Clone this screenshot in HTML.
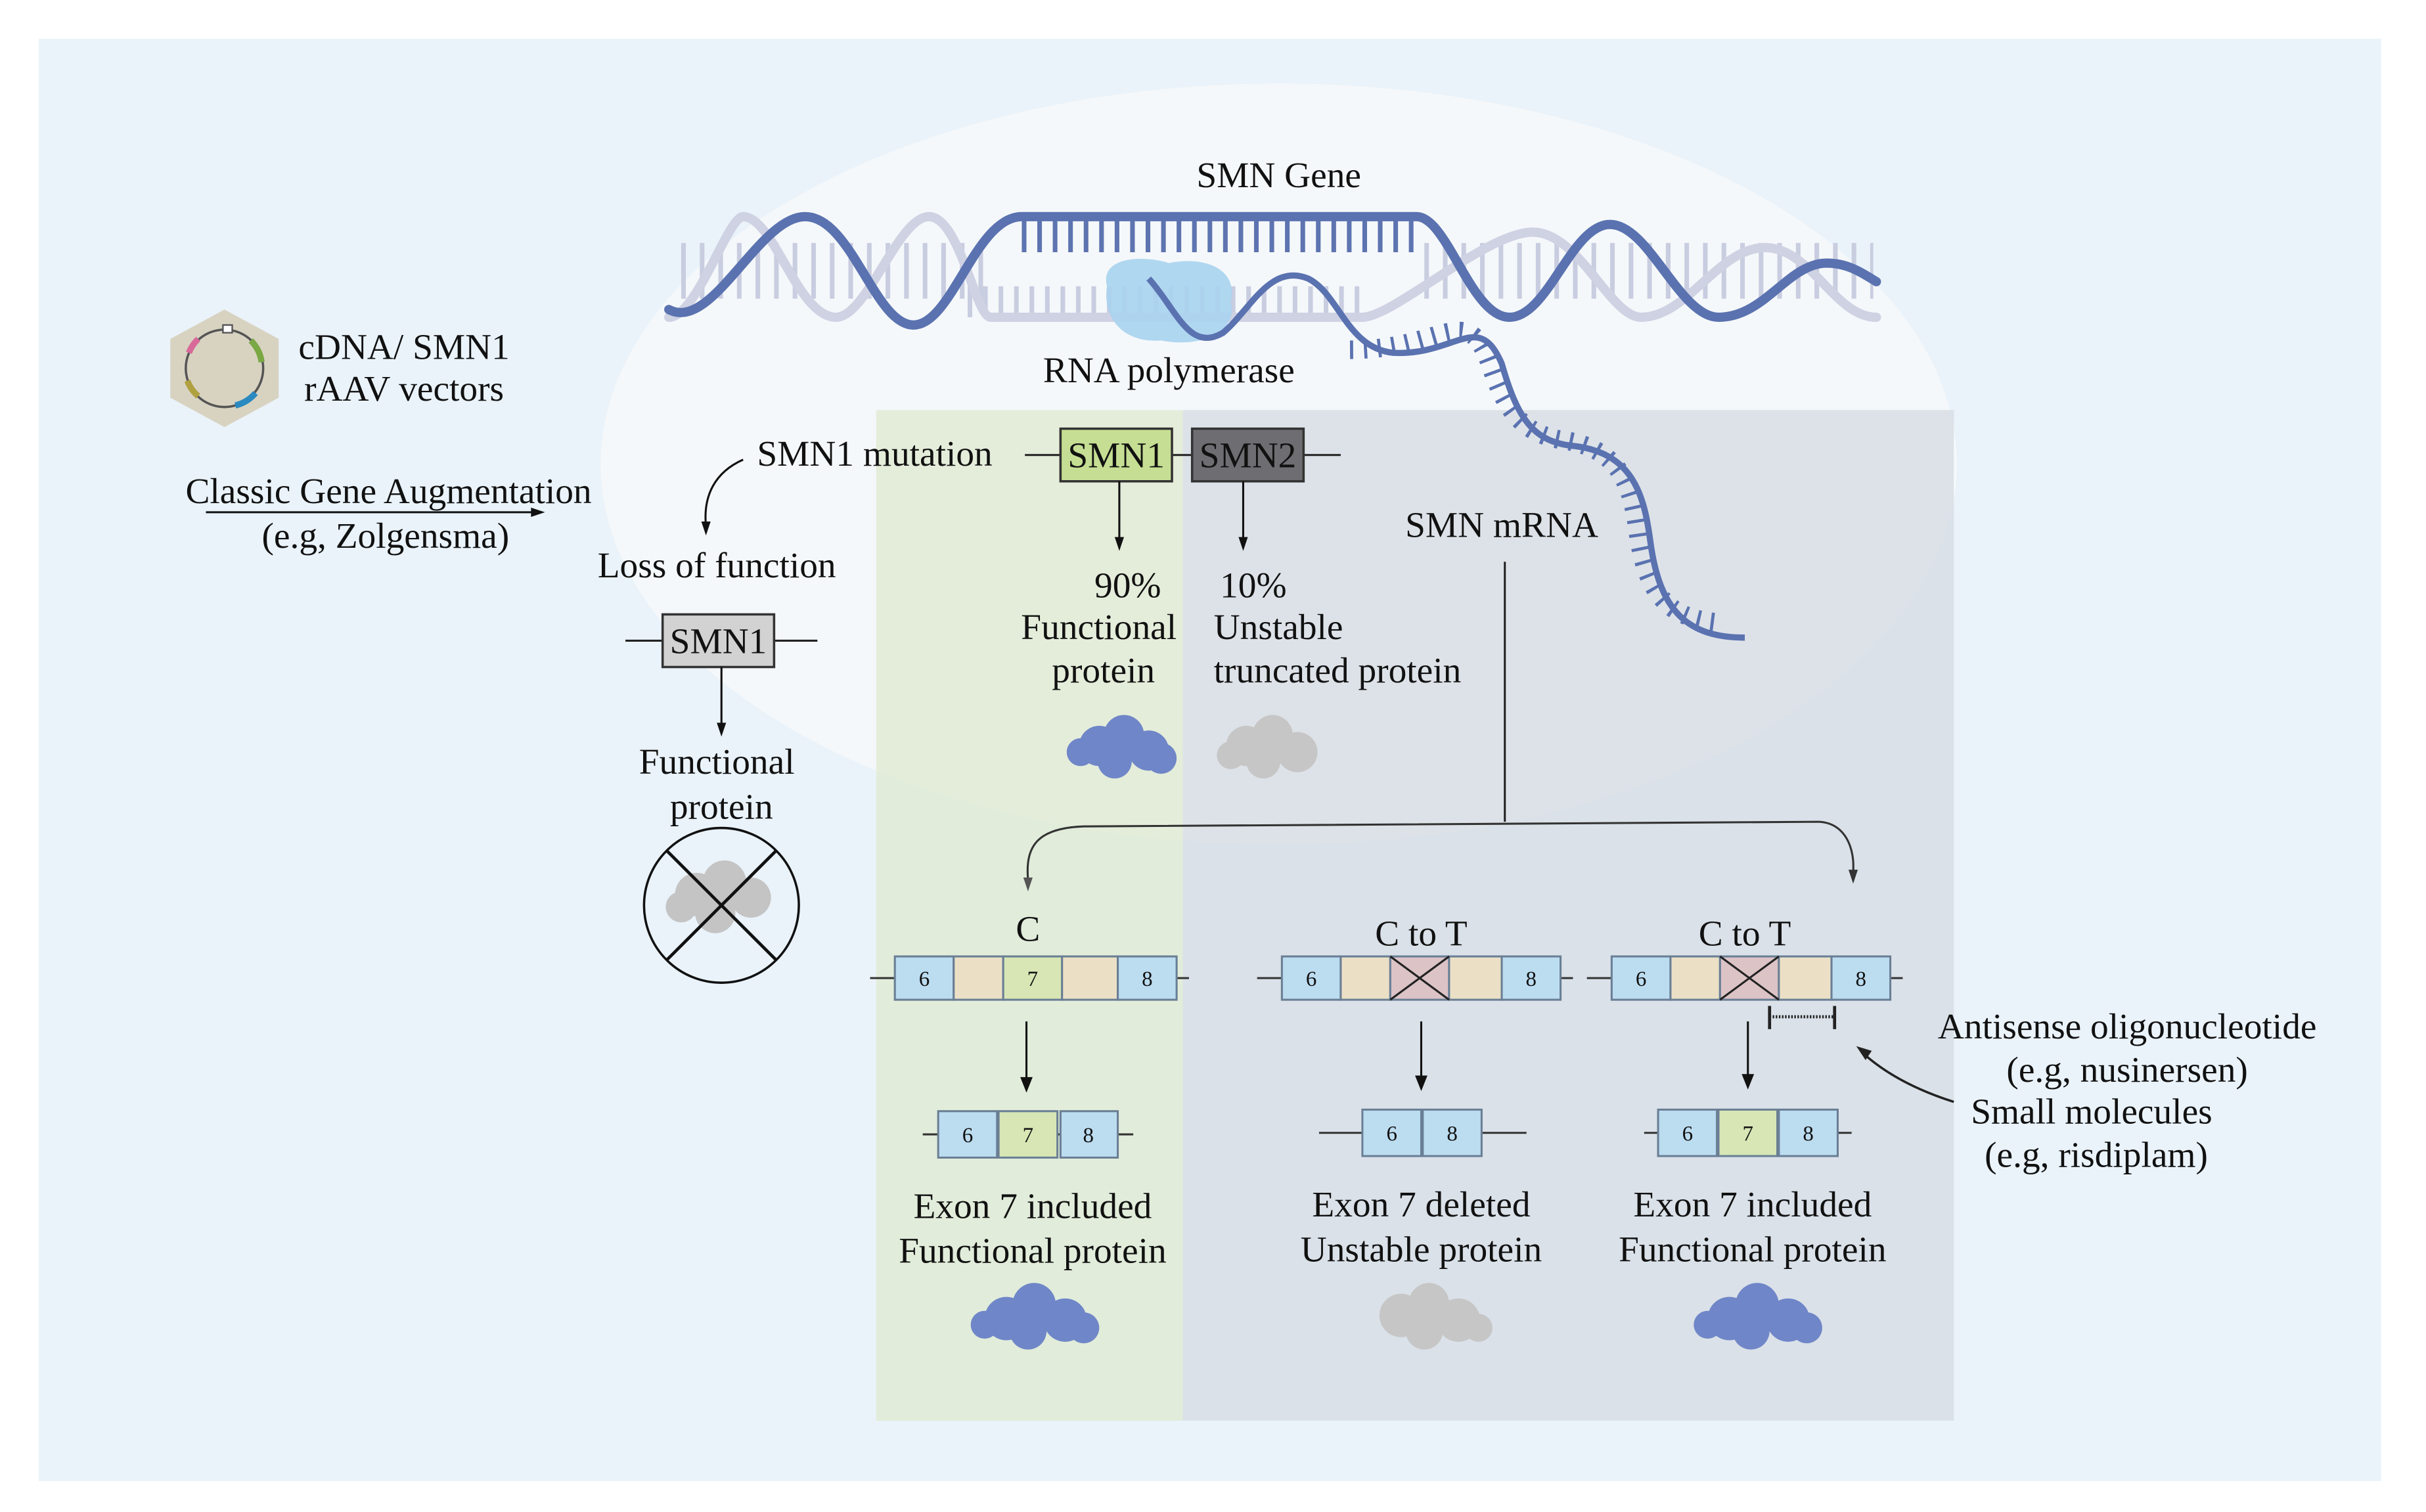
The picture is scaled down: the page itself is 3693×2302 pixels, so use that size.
<!DOCTYPE html>
<html><head><meta charset="utf-8"><style>
html,body{margin:0;padding:0;background:#fff}
svg{display:block}
text{font-family:"Liberation Serif",serif;fill:#111}
</style></head><body>
<svg width="3693" height="2302" viewBox="0 0 1567 977" preserveAspectRatio="none" xmlns="http://www.w3.org/2000/svg">
<rect width="1567" height="977" fill="#fff"/>
<rect x="25" y="25" width="1513" height="932" fill="#eaf3fa"/>
<ellipse cx="826" cy="300" rx="438" ry="246" fill="#f5f8fa"/>
<!-- panels -->
<rect x="566" y="265" width="198" height="653" fill="#dde8cc" opacity="0.7"/>
<rect x="764" y="265" width="498" height="653" fill="#d3d9df" opacity="0.7"/>
<!-- helix rungs -->
<g stroke="#c9cde0" stroke-width="3">
<line x1="440" y1="175" x2="640" y2="175" stroke-width="36" stroke-dasharray="3 9"/>
<line x1="920" y1="175" x2="1210" y2="175" stroke-width="36" stroke-dasharray="3 9"/>
<line x1="625" y1="195" x2="880" y2="195" stroke-width="20" stroke-dasharray="3 7"/>
</g>
<line x1="660" y1="152" x2="915" y2="152" stroke="#5d74b0" stroke-width="22" stroke-dasharray="3 7"/>
<g fill="none" stroke-linecap="round">
<path d="M432,205 C450,205 470,140 480,140 C500,140 515,205 540,205 C560,205 580,140 600,140 C620,140 630,205 640,205 L880,205 C900,205 960,150 990,150 C1020,150 1040,205 1060,205 C1090,205 1110,160 1140,160 C1170,160 1185,205 1212,205" stroke="#cfd2e3" stroke-width="6"/>
<path d="M432,200 C460,215 490,140 520,140 C550,140 565,210 590,210 C615,210 630,140 660,140 L915,140 C935,140 950,205 975,205 C1000,205 1015,145 1040,145 C1065,145 1085,205 1110,205 C1140,205 1155,170 1180,170 C1195,170 1205,178 1212,182" stroke="#5a72b0" stroke-width="6"/>
</g>
<!-- polymerase -->
<path d="M715,185 C710,165 740,165 755,170 C780,165 800,175 795,195 C800,215 775,225 750,220 C725,222 712,205 715,185 Z" fill="#a9d3ee" opacity="0.9"/>
<!-- RNA -->
<path d="M742,180 C760,200 768,228 790,215 C808,200 820,170 845,180 C865,190 870,225 900,228 C940,230 955,200 970,235 C980,270 990,285 1015,288 C1055,292 1062,320 1066,350 C1072,395 1090,412 1127,412" fill="none" stroke="#5a72b0" stroke-width="4"/>
<path d="M880,232 C940,232 955,200 970,240 C980,270 990,285 1015,290 C1055,295 1062,320 1066,350 C1072,395 1090,405 1115,408" fill="none" stroke="#5a72b0" stroke-width="12" stroke-dasharray="2 7" transform="translate(-8,-6)"/>
<!-- texts top -->
<text x="826" y="121" font-size="23.5" text-anchor="middle">SMN Gene</text>
<text x="755" y="247" font-size="23.5" text-anchor="middle">RNA polymerase</text>
<!-- hexagon vector -->
<polygon points="145,200 180,219 180,257 145,276 110,257 110,219" fill="#d8d3c1"/>
<circle cx="145" cy="238" r="25" fill="none" stroke="#555" stroke-width="1.5"/>
<path d="M122,228 A25,25 0 0 1 128,219" stroke="#d86a9a" stroke-width="4" fill="none"/>
<path d="M162,220 A25,25 0 0 1 169,234" stroke="#7aa844" stroke-width="4" fill="none"/>
<path d="M165,254 A25,25 0 0 1 152,262" stroke="#2a8ac0" stroke-width="4" fill="none"/>
<path d="M128,256 A25,25 0 0 1 121,246" stroke="#b0a040" stroke-width="4" fill="none"/>
<rect x="144" y="210" width="6" height="5" fill="#fff" stroke="#555" stroke-width="1"/>
<g font-size="23.5">
<text x="261" y="232" text-anchor="middle">cDNA/ SMN1</text>
<text x="261" y="259" text-anchor="middle">rAAV vectors</text>
<text x="251" y="325" text-anchor="middle">Classic Gene Augmentation</text>
<text x="249" y="354" text-anchor="middle">(e.g, Zolgensma)</text>
<text x="565" y="301" text-anchor="middle">SMN1 mutation</text>
<text x="463" y="373" text-anchor="middle">Loss of function</text>
<text x="463" y="500" text-anchor="middle">Functional</text>
<text x="466" y="529" text-anchor="middle">protein</text>
</g>
<line x1="133" y1="331" x2="350" y2="331" stroke="#111" stroke-width="1.3"/>
<path d="M352,331 l-9,-3 v6 z" fill="#111"/>
<path d="M480,297 C462,305 454,320 456,340" fill="none" stroke="#111" stroke-width="1.3"/>
<path d="M456,346 l-3,-9 h6 z" fill="#111"/>
<line x1="404" y1="414" x2="528" y2="414" stroke="#222" stroke-width="1.3"/>
<rect x="428" y="397" width="72" height="34" fill="#d2d2d2" stroke="#333" stroke-width="1.5"/>
<text x="464" y="422" font-size="23.5" text-anchor="middle">SMN1</text>
<line x1="466" y1="431" x2="466" y2="468" stroke="#111" stroke-width="1.3"/>
<path d="M466,476 l-3,-9 h6 z" fill="#111"/>
<circle cx="466" cy="585" r="50" fill="none" stroke="#111" stroke-width="1.5"/>
<g fill="#c4c4c4"><circle cx="450" cy="578" r="14"/><circle cx="468" cy="570" r="14"/><circle cx="485" cy="580" r="13"/><circle cx="462" cy="590" r="13"/><circle cx="440" cy="586" r="10"/></g>
<line x1="431" y1="550" x2="501" y2="620" stroke="#111" stroke-width="2"/>
<line x1="501" y1="550" x2="431" y2="620" stroke="#111" stroke-width="2"/>
<!-- SMN1/SMN2 genes -->
<line x1="662" y1="294" x2="866" y2="294" stroke="#222" stroke-width="1.3"/>
<rect x="685" y="277" width="72" height="34" fill="#c5de93" stroke="#333" stroke-width="1.5"/>
<text x="721" y="302" font-size="23.5" text-anchor="middle">SMN1</text>
<rect x="770" y="277" width="72" height="34" fill="#6e6e72" stroke="#333" stroke-width="1.5"/>
<text x="806" y="302" font-size="23.5" text-anchor="middle">SMN2</text>
<line x1="723" y1="311" x2="723" y2="348" stroke="#111" stroke-width="1.3"/>
<path d="M723,356 l-3,-9 h6 z" fill="#111"/>
<line x1="803" y1="311" x2="803" y2="348" stroke="#111" stroke-width="1.3"/>
<path d="M803,356 l-3,-9 h6 z" fill="#111"/>
<g font-size="23.5">
<text x="750" y="386" text-anchor="end">90%</text>
<text x="760" y="413" text-anchor="end">Functional</text>
<text x="746" y="441" text-anchor="end">protein</text>
<text x="788" y="386">10%</text>
<text x="784" y="413">Unstable</text>
<text x="784" y="441">truncated protein</text>
<text x="970" y="347" text-anchor="middle">SMN mRNA</text>
</g>
<g fill="#6f86c8"><circle cx="710" cy="482" r="13"/><circle cx="726" cy="475" r="13"/><circle cx="742" cy="485" r="13"/><circle cx="720" cy="492" r="11"/><circle cx="750" cy="490" r="10"/><circle cx="698" cy="486" r="9"/></g>
<g fill="#c6c6c6"><circle cx="805" cy="482" r="13"/><circle cx="822" cy="475" r="13"/><circle cx="838" cy="486" r="13"/><circle cx="816" cy="492" r="11"/><circle cx="795" cy="488" r="9"/></g>
<line x1="972" y1="363" x2="972" y2="531" stroke="#222" stroke-width="1.3"/>
<path d="M664,568 C662,545 672,535 700,534 L1175,531 C1192,532 1198,548 1197,563" fill="none" stroke="#333" stroke-width="1.3"/>
<path d="M664,576 l-3,-9 h6 z" fill="#555"/>
<path d="M1197,571 l-3,-9 h6 z" fill="#333"/>
<!-- row 1 exons -->
<g font-size="23.5" text-anchor="middle">
<text x="664" y="608">C</text>
<text x="918" y="611">C to T</text>
<text x="1127" y="611">C to T</text>
</g>
<g stroke="#333" stroke-width="1.3">
<line x1="562" y1="632" x2="768" y2="632"/>
<line x1="812" y1="632" x2="1016" y2="632"/>
<line x1="1025" y1="632" x2="1229" y2="632"/>
</g>
<g stroke="#6a7f95" stroke-width="1.3">
<rect x="578" y="618" width="38" height="28" fill="#bcdcf0"/><rect x="616" y="618" width="32" height="28" fill="#ebe0c6"/><rect x="648" y="618" width="38" height="28" fill="#d7e6b4"/><rect x="686" y="618" width="36" height="28" fill="#ebe0c6"/><rect x="722" y="618" width="38" height="28" fill="#bcdcf0"/>
<rect x="828" y="618" width="38" height="28" fill="#bcdcf0"/><rect x="866" y="618" width="32" height="28" fill="#ebe0c6"/><rect x="898" y="618" width="38" height="28" fill="#dcc3c6"/><rect x="936" y="618" width="34" height="28" fill="#ebe0c6"/><rect x="970" y="618" width="38" height="28" fill="#bcdcf0"/>
<rect x="1041" y="618" width="38" height="28" fill="#bcdcf0"/><rect x="1079" y="618" width="32" height="28" fill="#ebe0c6"/><rect x="1111" y="618" width="38" height="28" fill="#dcc3c6"/><rect x="1149" y="618" width="34" height="28" fill="#ebe0c6"/><rect x="1183" y="618" width="38" height="28" fill="#bcdcf0"/>
</g>
<g stroke="#222" stroke-width="1.3">
<line x1="898" y1="618" x2="936" y2="646"/><line x1="936" y1="618" x2="898" y2="646"/>
<line x1="1111" y1="618" x2="1149" y2="646"/><line x1="1149" y1="618" x2="1111" y2="646"/>
</g>
<g font-size="14" text-anchor="middle">
<text x="597" y="637">6</text><text x="667" y="637">7</text><text x="741" y="637">8</text>
<text x="847" y="637">6</text><text x="989" y="637">8</text>
<text x="1060" y="637">6</text><text x="1202" y="637">8</text>
</g>
<!-- bracket -->
<g stroke="#222" stroke-width="2"><line x1="1143" y1="650" x2="1143" y2="665"/><line x1="1185" y1="650" x2="1185" y2="665"/><line x1="1143" y1="657" x2="1185" y2="657" stroke-dasharray="1 1"/></g>
<!-- down arrows -->
<g stroke="#111" stroke-width="1.3"><line x1="663" y1="660" x2="663" y2="698"/><line x1="918" y1="660" x2="918" y2="697"/><line x1="1129" y1="660" x2="1129" y2="696"/></g>
<path d="M663,706 l-4,-10 h8 z M918,705 l-4,-10 h8 z M1129,704 l-4,-10 h8 z" fill="#111"/>
<!-- row 2 -->
<g stroke="#333" stroke-width="1.3"><line x1="596" y1="733" x2="732" y2="733"/><line x1="852" y1="732" x2="986" y2="732"/><line x1="1062" y1="732" x2="1196" y2="732"/></g>
<g stroke="#6a7f95" stroke-width="1.3">
<rect x="606" y="718" width="38" height="30" fill="#bcdcf0"/><rect x="645" y="718" width="38" height="30" fill="#d7e6b4"/><rect x="685" y="718" width="37" height="30" fill="#bcdcf0"/>
<rect x="880" y="717" width="38" height="30" fill="#bcdcf0"/><rect x="919" y="717" width="38" height="30" fill="#bcdcf0"/>
<rect x="1071" y="717" width="38" height="30" fill="#bcdcf0"/><rect x="1110" y="717" width="38" height="30" fill="#d7e6b4"/><rect x="1149" y="717" width="38" height="30" fill="#bcdcf0"/>
</g>
<g font-size="14" text-anchor="middle">
<text x="625" y="738">6</text><text x="664" y="738">7</text><text x="703" y="738">8</text>
<text x="899" y="737">6</text><text x="938" y="737">8</text>
<text x="1090" y="737">6</text><text x="1129" y="737">7</text><text x="1168" y="737">8</text>
</g>
<g font-size="23.5" text-anchor="middle">
<text x="667" y="787">Exon 7 included</text><text x="667" y="816">Functional protein</text>
<text x="918" y="786">Exon 7 deleted</text><text x="918" y="815">Unstable protein</text>
<text x="1132" y="786">Exon 7 included</text><text x="1132" y="815">Functional protein</text>
</g>
<g fill="#6f86c8"><circle cx="650" cy="852" r="14"/><circle cx="668" cy="843" r="14"/><circle cx="688" cy="853" r="14"/><circle cx="664" cy="860" r="12"/><circle cx="700" cy="858" r="10"/><circle cx="636" cy="856" r="9"/>
<circle cx="1117" cy="852" r="14"/><circle cx="1135" cy="843" r="14"/><circle cx="1155" cy="853" r="14"/><circle cx="1131" cy="860" r="12"/><circle cx="1167" cy="858" r="10"/><circle cx="1103" cy="856" r="9"/></g>
<g fill="#c6c6c6"><circle cx="905" cy="850" r="14"/><circle cx="923" cy="842" r="13"/><circle cx="942" cy="853" r="14"/><circle cx="920" cy="860" r="12"/><circle cx="955" cy="858" r="9"/></g>
<!-- ASO -->
<g font-size="23.5" text-anchor="middle">
<text x="1374" y="671">Antisense oligonucleotide</text>
<text x="1374" y="699">(e.g, nusinersen)</text>
<text x="1351" y="726">Small molecules</text>
<text x="1354" y="754">(e.g, risdiplam)</text>
</g>
<path d="M1262,712 C1240,705 1220,695 1205,682" fill="none" stroke="#222" stroke-width="1.5"/>
<path d="M1199,676 l10,3 l-4,6 z" fill="#222"/>
</svg>
</body></html>
